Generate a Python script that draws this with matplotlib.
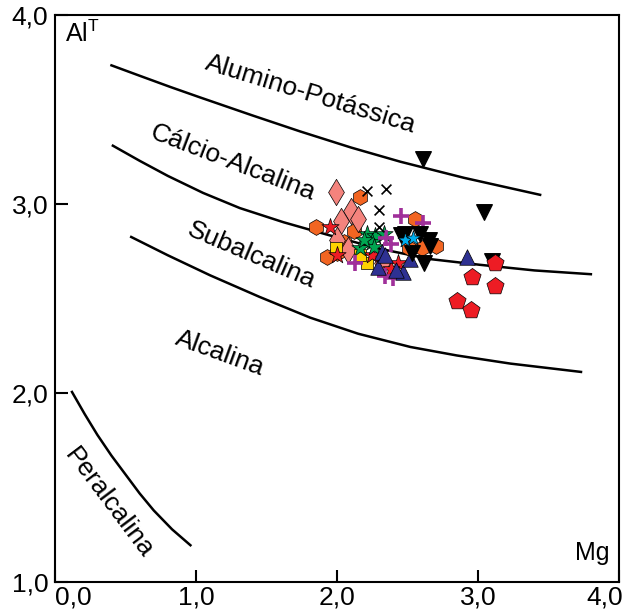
import matplotlib.pyplot as plt
import matplotlib
from matplotlib.transforms import ScaledTranslation

matplotlib.rcParams['font.family'] = ['Liberation Sans', 'DejaVu Sans']

# boundary curves
alpot_x = [0.40, 0.60, 0.82, 1.03, 1.40, 1.74, 2.10, 2.45, 2.90, 3.44]
alpot_y = [3.735, 3.68, 3.62, 3.565, 3.47, 3.385, 3.30, 3.225, 3.14, 3.05]
calc_x = [0.41, 0.60, 0.80, 1.05, 1.31, 1.62, 1.95, 2.30, 2.66, 3.01, 3.40, 3.80]
calc_y = [3.31, 3.23, 3.15, 3.06, 2.98, 2.905, 2.835, 2.765, 2.71, 2.68, 2.65, 2.63]
subalc_x = [0.54, 0.80, 1.10, 1.45, 1.81, 2.15, 2.52, 2.85, 3.23, 3.73]
subalc_y = [2.827, 2.73, 2.624, 2.51, 2.40, 2.315, 2.245, 2.20, 2.157, 2.113]
peralc_x = [0.12, 0.21, 0.30, 0.40, 0.50, 0.60, 0.70, 0.83, 0.96]
peralc_y = [2.007, 1.89, 1.78, 1.67, 1.57, 1.47, 1.38, 1.28, 1.196]

# samples
hex_x = [2.16, 1.85, 2.55, 2.51, 2.60, 2.70, 2.12, 2.05, 2.00, 1.93]
hex_y = [3.04, 2.88, 2.92, 2.77, 2.77, 2.78, 2.86, 2.80, 2.74, 2.72]
dia_x = [1.99, 2.10, 2.03, 2.15, 2.00, 2.08, 2.32]
dia_y = [3.065, 2.965, 2.91, 2.92, 2.81, 2.76, 2.69]
rstar_x = [1.95, 2.00, 2.25, 2.43, 2.38]
rstar_y = [2.88, 2.73, 2.73, 2.69, 2.66]
gstar_x = [2.21, 2.27, 2.33, 2.25, 2.16, 2.26, 2.19]
gstar_y = [2.845, 2.83, 2.845, 2.80, 2.77, 2.775, 2.81]
sq_x = [1.99, 2.21, 2.16]
sq_y = [2.77, 2.69, 2.73]
plus_x = [2.45, 2.61, 2.13, 2.34, 2.40, 2.35, 2.38]
plus_y = [2.94, 2.90, 2.69, 2.62, 2.61, 2.82, 2.79]
tri_x = [2.92, 2.29, 2.47, 2.52, 2.32, 2.34, 2.42]
tri_y = [2.72, 2.67, 2.64, 2.71, 2.75, 2.73, 2.65]
dtri_x = [2.61, 3.04, 3.10, 2.45, 2.59, 2.65, 2.62, 2.66, 2.53, 2.48]
dtri_y = [3.24, 2.96, 2.70, 2.84, 2.845, 2.81, 2.69, 2.78, 2.74, 2.845]
cstar_x = [2.48, 2.54]
cstar_y = [2.81, 2.82]
xm_x = [2.21, 2.35, 2.30, 2.30]
xm_y = [3.07, 3.08, 2.97, 2.88]
pent_x = [3.12, 2.955, 3.12, 2.85, 2.95]
pent_y = [2.69, 2.615, 2.566, 2.49, 2.44]

xtick_labels = ['0,0', '1,0', '2,0', '3,0', '4,0']
ytick_labels = ['1,0', '2,0', '3,0', '4,0']

fig = plt.figure(figsize=(6.33, 6.11), dpi=100)
ax = fig.add_axes([0.087, 0.047, 0.891, 0.928])

for cx, cy in [(alpot_x, alpot_y), (calc_x, calc_y), (subalc_x, subalc_y), (peralc_x, peralc_y)]:
    ax.plot(cx, cy, color='black', lw=1.8, zorder=2, solid_joinstyle='round')

ec = dict(edgecolors='black', linewidths=0.5, zorder=3)
ax.scatter(hex_x, hex_y, marker='h', s=130, c='#F26522', **ec)
ax.scatter(dia_x, dia_y, marker='d', s=180, c='#F4837D', **ec)
ax.scatter(sq_x, sq_y, marker='s', s=65, c='#FFD200', **ec)
ax.scatter(rstar_x, rstar_y, marker='*', s=170, c='#ED1C24', **ec)
ax.scatter(gstar_x, gstar_y, marker='*', s=170, c='#00A651', **ec)
ax.scatter(plus_x, plus_y, marker='+', s=120, c='#A0309A', linewidths=2.6, zorder=3)
ax.scatter(tri_x, tri_y, marker='^', s=125, c='#2E3192', **ec)
ax.scatter(dtri_x, dtri_y, marker='v', s=125, c='black', zorder=3)
ax.scatter(cstar_x, cstar_y, marker='*', s=130, c='#00AEEF', **ec)
ax.scatter(xm_x, xm_y, marker='x', s=50, c='black', linewidths=1.2, zorder=3)
ax.scatter(pent_x, pent_y, marker='p', s=170, c='#ED1C24', **ec)

fs = 19
ax.text(1.81, 3.58, 'Alumino-Potássica', fontsize=fs, rotation=-17, ha='center', va='center', rotation_mode='anchor')
ax.text(1.26, 3.22, 'Cálcio-Alcalina', fontsize=fs, rotation=-21, ha='center', va='center', rotation_mode='anchor')
ax.text(1.395, 2.73, 'Subalcalina', fontsize=fs, rotation=-23, ha='center', va='center', rotation_mode='anchor')
ax.text(1.17, 2.21, 'Alcalina', fontsize=fs, rotation=-20, ha='center', va='center', rotation_mode='anchor')
ax.text(0.38, 1.42, 'Peralcalina', fontsize=fs, rotation=-53, ha='center', va='center', rotation_mode='anchor')
ax.text(0.07, 3.86, r'Al$^\mathregular{T}$', fontsize=18, ha='left', va='baseline')
ax.text(3.93, 1.116, 'Mg', fontsize=18, ha='right', va='baseline')

ax.set_xlim(0, 4)
ax.set_ylim(1, 4)
ax.set_xticks([0, 1, 2, 3, 4])
ax.set_xticklabels(xtick_labels)
ax.set_yticks([1, 2, 3, 4])
ax.set_yticklabels(ytick_labels)
ax.tick_params(direction='in', length=9, width=1.5, labelsize=19)
ax.tick_params(axis='x', pad=2)
ax.tick_params(axis='y', pad=5)
for sp in ax.spines.values():
    sp.set_linewidth(1.5)

# first and last x labels sit inside the frame edges
xl = ax.get_xticklabels()
xl[0].set_transform(xl[0].get_transform() + ScaledTranslation(13 / 72, 0, fig.dpi_scale_trans))
xl[-1].set_transform(xl[-1].get_transform() + ScaledTranslation(-10 / 72, 0, fig.dpi_scale_trans))

plt.savefig('out.png', dpi=100)
